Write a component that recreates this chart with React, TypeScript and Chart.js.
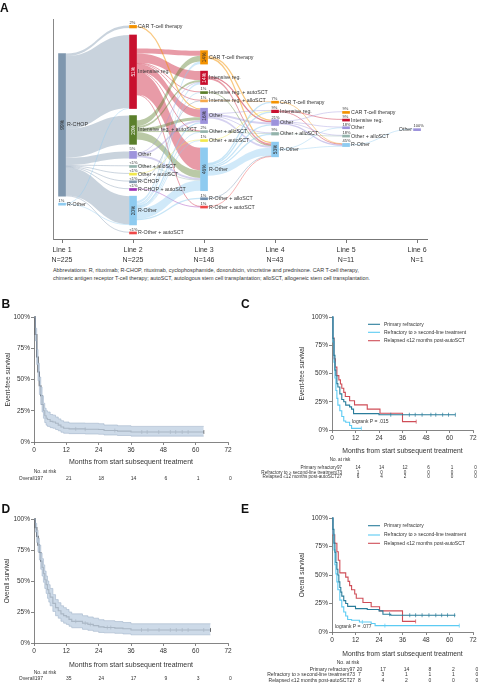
import React, { useEffect, useRef } from "react";
import { Chart, registerables } from "chart.js";

Chart.register(...registerables);
const FONT = "'Liberation Sans', Arial, Helvetica, sans-serif";
Chart.defaults.font.family = FONT;

// ================= Panel A: treatment lines =================
const LINES = ["Line 1", "Line 2", "Line 3", "Line 4", "Line 5", "Line 6"];
const LINE_N = [225, 225, 146, 43, 11, 1];

const L1_NODES = ["R-CHOP", "R-Other"];
const L1_COUNTS = [223, 2];
const L2_NODES = [
  "CAR T-cell therapy", "Intensive reg.", "Intensive reg. + autoSCT", "Other", "Other + alloSCT",
  "Other + autoSCT", "R-CHOP", "R-CHOP + autoSCT", "R-Other", "R-Other + autoSCT",
];
const L2_COUNTS = [4, 115, 45, 11, 1, 1, 1, 1, 45, 1];
const L3_NODES = [
  "CAR T-cell therapy", "Intensive reg.", "Intensive reg. + autoSCT", "Intensive reg. + alloSCT", "Other",
  "Other + alloSCT", "Other + autoSCT", "R-Other", "R-Other + alloSCT", "R-Other + autoSCT",
];
const L3_COUNTS = [21, 21, 2, 2, 24, 3, 2, 67, 2, 2];
const L4_NODES = ["CAR T-cell therapy", "Intensive reg.", "Other", "Other + alloSCT", "R-Other"];
const L4_COUNTS = [3, 4, 9, 4, 23];
const L5_NODES = ["CAR T-cell therapy", "Intensive reg.", "Other", "Other + alloSCT", "R-Other"];
const L5_COUNTS = [1, 1, 2, 2, 5];
const L6_NODES = ["Other"];
const L6_COUNTS = [1];

type Flow = [string, string, number];
const FLOWS_1_2: Flow[] = [
  ["R-CHOP", "CAR T-cell therapy", 4], ["R-CHOP", "Intensive reg.", 114], ["R-CHOP", "Intensive reg. + autoSCT", 45],
  ["R-CHOP", "Other", 11], ["R-CHOP", "Other + alloSCT", 1], ["R-CHOP", "Other + autoSCT", 1], ["R-CHOP", "R-CHOP", 1],
  ["R-CHOP", "R-CHOP + autoSCT", 1], ["R-CHOP", "R-Other", 44], ["R-CHOP", "R-Other + autoSCT", 1],
  ["R-Other", "Intensive reg.", 1], ["R-Other", "R-Other", 1],
];
const FLOWS_2_3: Flow[] = [
  ["Intensive reg.", "CAR T-cell therapy", 8], ["Intensive reg.", "Intensive reg.", 14], ["Intensive reg.", "Intensive reg. + autoSCT", 1],
  ["Intensive reg.", "Intensive reg. + alloSCT", 1], ["Intensive reg.", "Other", 12], ["Intensive reg.", "Other + alloSCT", 1],
  ["Intensive reg.", "R-Other", 35], ["Intensive reg.", "R-Other + autoSCT", 1],
  ["Intensive reg. + autoSCT", "CAR T-cell therapy", 9], ["Intensive reg. + autoSCT", "Intensive reg.", 3],
  ["Intensive reg. + autoSCT", "Other", 5], ["Intensive reg. + autoSCT", "Other + alloSCT", 1], ["Intensive reg. + autoSCT", "R-Other", 12],
  ["CAR T-cell therapy", "Other", 2],
  ["Other", "Intensive reg.", 1], ["Other", "Other", 3], ["Other", "R-Other", 3],
  ["Other + alloSCT", "R-Other", 1], ["Other + autoSCT", "Other + autoSCT", 1],
  ["R-CHOP", "Intensive reg. + alloSCT", 1], ["R-CHOP + autoSCT", "R-Other + autoSCT", 1],
  ["R-Other", "CAR T-cell therapy", 4], ["R-Other", "Intensive reg.", 3], ["R-Other", "Intensive reg. + autoSCT", 1],
  ["R-Other", "Other", 2], ["R-Other", "Other + alloSCT", 1], ["R-Other", "Other + autoSCT", 1],
  ["R-Other", "R-Other", 16], ["R-Other", "R-Other + alloSCT", 2],
];
const FLOWS_3_4: Flow[] = [
  ["CAR T-cell therapy", "Other", 2], ["CAR T-cell therapy", "R-Other", 2],
  ["Intensive reg.", "Other", 2], ["Intensive reg.", "R-Other", 3],
  ["Intensive reg. + autoSCT", "R-Other", 1], ["Intensive reg. + alloSCT", "CAR T-cell therapy", 1],
  ["Other", "Intensive reg.", 1], ["Other", "Other", 3], ["Other", "Other + alloSCT", 1], ["Other", "R-Other", 3],
  ["Other + alloSCT", "Other + alloSCT", 1], ["Other + autoSCT", "Intensive reg.", 1],
  ["R-Other", "CAR T-cell therapy", 2], ["R-Other", "Intensive reg.", 2], ["R-Other", "Other", 2],
  ["R-Other", "Other + alloSCT", 2], ["R-Other", "R-Other", 12],
  ["R-Other + alloSCT", "R-Other", 1], ["R-Other + autoSCT", "R-Other", 1],
];
const FLOWS_4_5: Flow[] = [
  ["CAR T-cell therapy", "R-Other", 1], ["Intensive reg.", "Intensive reg.", 1], ["Intensive reg.", "R-Other", 1],
  ["Other", "CAR T-cell therapy", 1], ["Other", "Other", 1], ["Other", "Other + alloSCT", 1], ["Other", "R-Other", 2],
  ["Other + alloSCT", "Other + alloSCT", 1], ["R-Other", "Other", 1], ["R-Other", "R-Other", 1],
];
const FLOWS_5_6: Flow[] = [["R-Other", "Other", 1]];

const ABBREV_1 =
  "Abbreviations: R, rituximab; R-CHOP, rituximab, cyclophosphamide, doxorubicin, vincristine and prednisone. CAR T-cell therapy,";
const ABBREV_2 =
  "chimeric antigen receptor T-cell therapy; autoSCT, autologous stem cell transplantation; alloSCT, allogeneic stem cell transplantation.";

// ================= Panels B-E: survival =================
const RISK_TIMES = [0, 12, 24, 36, 48, 60, 72];
const Y_TICKS = [0, 25, 50, 75, 100];
const X_TITLE = "Months from start subsequent treatment";
const GROUP_LABELS = [
  "Primary refractory",
  "Refractory to \u2265 second-line treatment",
  "Relapsed \u226412 months post-autoSCT",
];

const EFS_ALL_T = [0, 0.5, 1, 1.5, 2, 2.5, 3, 3.5, 4, 4.5, 5, 6, 7, 8, 9, 10, 11, 13, 19, 24, 26, 31, 36, 63];
const EFS_ALL_S = [100, 86, 68, 56, 45, 37, 30, 25, 21, 19, 18, 16.5, 16, 15, 13.5, 12, 11, 10.5, 10.2, 10, 9.2, 8.7, 8, 8];
const EFS_ALL_LO = [100, 81, 62, 49, 38, 30, 24, 19, 15.5, 13.5, 12.5, 11.5, 11, 10, 9, 7.8, 7, 6.7, 6.4, 6.2, 5.6, 5.2, 4.7, 4.7];
const EFS_ALL_HI = [100, 91, 74, 63, 52, 44, 37, 31, 27, 25, 24, 22, 21.5, 20, 18.5, 17, 16, 15.2, 15, 14.6, 13.6, 13, 12.5, 12.5];
const EFS_ALL_CENSOR = [15.5, 19, 30, 40, 42, 46.3, 50.6, 52.6, 55, 57.2, 63];
const RISK_B = [197, 21, 18, 14, 6, 1, 0];

const OS_ALL_T = [0, 0.5, 1, 1.5, 2, 2.5, 3, 3.5, 4, 4.5, 5, 5.5, 6, 7, 8, 9, 10, 11, 12, 13, 14, 18, 20, 22, 24, 26, 30, 33, 36, 65.5];
const OS_ALL_S = [100, 93, 86, 79, 73, 66, 61, 56, 51, 47, 43, 40, 37, 32, 28.5, 26, 23.5, 22, 21, 19, 17.5, 16, 15, 14, 13, 12.5, 12, 11.5, 10.5, 10.5];
const OS_ALL_LO = [100, 89.5, 81, 73.5, 67, 59.5, 54, 49, 44, 40, 36, 33, 30, 25.5, 22, 20, 17.5, 16, 15, 13.5, 12.3, 11, 10.2, 9.4, 8.5, 8.2, 7.8, 7.3, 6.6, 6.6];
const OS_ALL_HI = [100, 96.5, 91, 84.5, 79, 72.5, 68, 63, 58, 54, 50, 47, 44, 39, 35, 32.5, 30, 28.5, 27, 25, 23.5, 22, 21, 20, 18.8, 18, 17.3, 16.5, 15.5, 15.5];
const OS_ALL_CENSOR = [15.5, 19, 20.9, 27.2, 28.5, 39.9, 42.3, 46.4, 50.6, 52.8, 55, 57.2, 63, 65.5];
const RISK_D = [197, 35, 24, 17, 9, 3, 0];

const EFS_PR_T = [0, 0.5, 1, 1.5, 2, 2.5, 3, 4, 5, 6, 7, 9, 10, 11, 24, 63];
const EFS_PR_S = [100, 81, 66, 53, 48, 41, 38, 32, 27, 25, 22, 20.5, 18.5, 14.5, 13.5, 13.5];
const EFS_PR_CENSOR = [30, 39.5, 42.5, 46, 50.5, 53, 56.5, 59.5, 63];
const EFS_RF_T = [0, 0.5, 1, 1.5, 2, 2.5, 3, 4, 5, 6, 7, 9, 10, 15];
const EFS_RF_S = [100, 78, 60, 46, 35, 28, 22, 17, 12, 8, 6.8, 4, 1.4, 1.4];
const EFS_RF_CENSOR = [15];
const EFS_RL_T = [0, 0.5, 1, 1.7, 2.5, 3.5, 4.3, 5, 6, 6.8, 9, 11.5, 18, 24.5, 36, 43];
const EFS_RL_S = [100, 81.5, 63, 55.6, 48.1, 44.4, 40.7, 37, 33.3, 29.6, 25.9, 22.2, 18.5, 14.8, 7.4, 7.4];
const EFS_RL_CENSOR = [43];
const RISK_C_PR = [97, 14, 14, 12, 6, 1, 0];
const RISK_C_RF = [73, 1, 0, 0, 0, 0, 0];
const RISK_C_RL = [27, 6, 4, 2, 0, 0, 0];

const OS_PR_T = [0, 0.5, 1, 1.5, 2, 2.5, 3, 3.5, 4, 4.5, 5, 6, 7, 8, 12, 18, 24, 26, 30, 63];
const OS_PR_S = [100, 90, 78, 70, 61, 55, 50, 44, 39, 35, 31.5, 27.5, 25, 22.5, 20.5, 19.7, 18.5, 15.6, 14.7, 14.7];
const OS_PR_CENSOR = [29.4, 39.7, 42.7, 46, 49.5, 53, 56, 59, 62.6];
const OS_RF_T = [0, 0.5, 1, 1.5, 2, 2.5, 3, 4, 5, 6, 7, 8, 10, 14, 20, 22, 65];
const OS_RF_S = [100, 86, 72, 59, 51, 44, 37, 28, 22, 17.6, 14, 11, 10.3, 8.8, 7.4, 5.6, 5.6];
const OS_RF_CENSOR = [15.5, 27, 65];
const OS_RL_T = [0, 0.5, 1.4, 2.5, 3.2, 4, 7, 8.2, 9, 10, 11.6, 12.4, 15.8, 20, 24.3, 36, 42.7];
const OS_RL_S = [100, 85.2, 77.8, 70.4, 63, 51.9, 48.1, 44.4, 40.7, 37, 33.3, 29.6, 25.9, 22.2, 18.5, 9.3, 9.3];
const OS_RL_CENSOR = [42.7];
const RISK_E_PR = [97, 20, 17, 14, 8, 2, 0];
const RISK_E_RF = [73, 7, 3, 1, 1, 1, 0];
const RISK_E_RL = [27, 8, 4, 2, 0, 0, 0];

// ================= styles =================
const NODE_COLORS: Record<string, string> = {
  "R-CHOP": "#7f97ae",
  "R-Other": "#8ecbf0",
  "CAR T-cell therapy": "#f39200",
  "Intensive reg.": "#c8102e",
  "Intensive reg. + autoSCT": "#5b7f2b",
  "Intensive reg. + alloSCT": "#f6a84a",
  Other: "#9d93dc",
  "Other + alloSCT": "#93b3ab",
  "Other + autoSCT": "#f2e84a",
  "R-CHOP + autoSCT": "#9b30b5",
  "R-Other + autoSCT": "#ee4848",
  "R-Other + alloSCT": "#6f8fae",
};
const COL_PR = "#2a7d9b";
const COL_RF = "#5ccbf3";
const COL_RL = "#cf4d57";

function rgba(hex: string, a: number) {
  const v = parseInt(hex.slice(1), 16);
  return `rgba(${(v >> 16) & 255},${(v >> 8) & 255},${v & 255},${a})`;
}
function isDark(hex: string) {
  const v = parseInt(hex.slice(1), 16);
  const r = (v >> 16) & 255, g = (v >> 8) & 255, b = v & 255;
  return 0.299 * r + 0.587 * g + 0.114 * b < 120;
}

// ================= Sankey =================
type SNode = { col: number; name: string; count: number; y0: number; y1: number };
type SLink = { src: SNode; tgt: SNode; v: number; sy: number; ty: number };
const GAP = 11;
const CENTER = 172;
const YMAX = 344;
const BAR_W = 7;

function buildNodes(): SNode[] {
  const cols: [string[], number[]][] = [
    [L1_NODES, L1_COUNTS], [L2_NODES, L2_COUNTS], [L3_NODES, L3_COUNTS],
    [L4_NODES, L4_COUNTS], [L5_NODES, L5_COUNTS], [L6_NODES, L6_COUNTS],
  ];
  const nodes: SNode[] = [];
  cols.forEach(([names, counts], ci) => {
    const total = counts.reduce((a, b) => a + b, 0) + GAP * (counts.length - 1);
    let y = CENTER - total / 2;
    names.forEach((name, k) => {
      nodes.push({ col: ci, name, count: counts[k], y0: y, y1: y + counts[k] });
      y += counts[k] + GAP;
    });
  });
  return nodes;
}

function buildLinks(nodes: SNode[]): SLink[] {
  const all = [FLOWS_1_2, FLOWS_2_3, FLOWS_3_4, FLOWS_4_5, FLOWS_5_6];
  const links: SLink[] = [];
  all.forEach((fl, ci) => {
    fl.forEach(([from, to, v]) => {
      const src = nodes.find((n) => n.col === ci && n.name === from)!;
      const tgt = nodes.find((n) => n.col === ci + 1 && n.name === to)!;
      links.push({ src, tgt, v, sy: 0, ty: 0 });
    });
  });
  nodes.forEach((n) => {
    const outs = links.filter((l) => l.src === n).sort((a, b) => a.tgt.y0 - b.tgt.y0);
    const outT = outs.reduce((a, l) => a + l.v, 0);
    let y = n.y0 + Math.max(0, (n.count - outT) / 2);
    outs.forEach((l) => { l.sy = y; y += l.v; });
    const ins = links.filter((l) => l.tgt === n).sort((a, b) => a.src.y0 - b.src.y0);
    const inT = ins.reduce((a, l) => a + l.v, 0);
    y = n.y0 + Math.max(0, (n.count - inT) / 2);
    ins.forEach((l) => { l.ty = y; y += l.v; });
  });
  return links;
}

function SankeyChart() {
  const ref = useRef<HTMLCanvasElement>(null);
  useEffect(() => {
    const canvas = ref.current!;
    const nodes = buildNodes();
    const links = buildLinks(nodes);
    const sankeyPlugin = {
      id: "sankeyFlows",
      beforeDatasetsDraw(chart: any) {
        const { ctx } = chart;
        const xs = chart.scales.x, ys = chart.scales.y;
        ctx.save();
        links.forEach((l) => {
          const x0 = xs.getPixelForValue(l.src.col + 1) + BAR_W / 2;
          const x1 = xs.getPixelForValue(l.tgt.col + 1) - BAR_W / 2;
          const a0 = ys.getPixelForValue(l.sy), a1 = ys.getPixelForValue(l.sy + l.v);
          const b0 = ys.getPixelForValue(l.ty), b1 = ys.getPixelForValue(l.ty + l.v);
          const xm = (x0 + x1) / 2;
          const col = NODE_COLORS[l.src.name];
          const w = Math.abs(a1 - a0);
          if (w < 1.6) {
            const am = (a0 + a1) / 2, bm = (b0 + b1) / 2;
            ctx.beginPath();
            ctx.moveTo(x0, am);
            ctx.bezierCurveTo(xm, am, xm, bm, x1, bm);
            ctx.strokeStyle = rgba(col, 0.5);
            ctx.lineWidth = Math.max(0.8, w);
            ctx.stroke();
          } else {
            ctx.beginPath();
            ctx.moveTo(x0, a0);
            ctx.bezierCurveTo(xm, a0, xm, b0, x1, b0);
            ctx.lineTo(x1, b1);
            ctx.bezierCurveTo(xm, b1, xm, a1, x0, a1);
            ctx.closePath();
            ctx.fillStyle = rgba(col, 0.42);
            ctx.fill();
          }
        });
        ctx.restore();
      },
      afterDatasetsDraw(chart: any) {
        const { ctx } = chart;
        const meta = chart.getDatasetMeta(0);
        ctx.save();
        meta.data.forEach((el: any, i: number) => {
          const n = nodes[i];
          const top = Math.min(el.y, el.base), bot = Math.max(el.y, el.base);
          const h = bot - top, cy = (top + bot) / 2;
          const left = el.x - BAR_W / 2, right = el.x + BAR_W / 2;
          const pct = (100 * n.count) / LINE_N[n.col];
          const pctTxt = pct < 0.5 ? "<1%" : Math.round(pct) + "%";
          ctx.fillStyle = "#333";
          ctx.font = `5.3px ${FONT}`;
          ctx.textBaseline = "middle";
          if (n.col === LINES.length - 1) {
            ctx.textAlign = "right";
            ctx.fillText(n.name, left - 1.5, cy);
          } else {
            ctx.textAlign = "left";
            ctx.fillText(n.name, right + 1.5, cy);
          }
          if (h >= 8) {
            ctx.save();
            ctx.translate(el.x, cy);
            ctx.rotate(-Math.PI / 2);
            ctx.font = `4.8px ${FONT}`;
            ctx.textAlign = "center";
            ctx.textBaseline = "middle";
            ctx.fillStyle = isDark(NODE_COLORS[n.name]) ? "#ffffff" : "#333";
            ctx.fillText(pctTxt, 0, 0.3);
            ctx.restore();
          } else {
            ctx.font = `4px ${FONT}`;
            ctx.textAlign = "left";
            ctx.textBaseline = "bottom";
            ctx.fillText(pctTxt, left, top - 0.3);
          }
        });
        ctx.restore();
      },
    };
    const chart = new Chart(canvas, {
      type: "bar",
      data: {
        datasets: [
          {
            data: nodes.map((n) => ({ x: n.col + 1, y: [n.y0, n.y1] })) as any,
            backgroundColor: nodes.map((n) => NODE_COLORS[n.name]),
            barThickness: BAR_W,
            minBarLength: 2,
            borderWidth: 0,
          },
        ],
      },
      options: {
        animation: false,
        responsive: false,
        events: [],
        layout: { padding: { left: 0, top: 19, right: 51, bottom: 0 } },
        plugins: { legend: { display: false }, tooltip: { enabled: false } },
        scales: {
          x: {
            type: "linear",
            min: 0.873,
            max: 6.14,
            offset: false,
            afterBuildTicks: (s: any) => { s.ticks = LINES.map((_, i) => ({ value: i + 1 })); },
            afterFit: (s: any) => { s.height = 26; },
            grid: { display: true, drawOnChartArea: false, drawTicks: true, tickLength: 4, color: "#777", offset: false },
            border: { display: true, color: "#777" },
            ticks: {
              callback: (v: any) => [LINES[Math.round(v) - 1], "N=" + LINE_N[Math.round(v) - 1]],
              font: { size: 7, lineHeight: 1.4 },
              color: "#333",
              padding: 2,
              maxRotation: 0,
              autoSkip: false,
            },
          },
          y: {
            type: "linear",
            min: 0,
            max: YMAX,
            reverse: true,
            afterFit: (s: any) => { s.width = 53; },
            ticks: { display: false },
            grid: { display: false },
            border: { display: true, color: "#888" },
          },
        },
      } as any,
      plugins: [sankeyPlugin],
    });
    return () => chart.destroy();
  }, []);
  return (
    <canvas
      ref={ref}
      width={478}
      height={265}
      style={{ position: "absolute", left: 0, top: 0, width: 478, height: 265, display: "block" }}
    />
  );
}

// ================= KM chart =================
type Series = {
  t: number[]; s: number[]; color: string; censor: number[];
  lo?: number[]; hi?: number[]; riskLabel: string; risk: number[]; legend?: string;
};
type KmSpec = {
  left: number; top: number; w: number; h: number;
  pad: { left: number; top: number; right: number; bottom: number };
  yTitle: string; yTitleX: number; xTitleY: number; xTitleSize: number;
  noRiskX: number; noRiskY: number; riskRight: number; riskYs: number[]; riskSize: number; riskOffset: number;
  series: Series[]; lineWidth: number;
  legend?: { x0: number; x1: number; tx: number; ys: number[] };
  logrank?: { text: string; x: number; y: number };
};

function stepAt(t: number[], s: number[], c: number) {
  let v = s[0];
  for (let i = 0; i < t.length; i++) if (t[i] <= c) v = s[i];
  return v;
}

function KMChart({ spec }: { spec: KmSpec }) {
  const ref = useRef<HTMLCanvasElement>(null);
  useEffect(() => {
    const canvas = ref.current!;
    const datasets: any[] = [];
    spec.series.forEach((se) => {
      if (se.lo && se.hi) {
        datasets.push({
          data: se.t.map((x, i) => ({ x, y: se.lo![i] })),
          borderColor: "#a3b6cb", borderWidth: 0.6, stepped: true, pointRadius: 0, fill: false, clip: false,
        });
        datasets.push({
          data: se.t.map((x, i) => ({ x, y: se.hi![i] })),
          borderColor: "#a3b6cb", borderWidth: 0.6, stepped: true, pointRadius: 0,
          fill: "-1", backgroundColor: "rgba(196,212,228,0.85)", clip: false,
        });
      }
    });
    spec.series.forEach((se) => {
      datasets.push({
        data: se.t.map((x, i) => ({ x, y: se.s[i] })),
        borderColor: se.color, borderWidth: spec.lineWidth, stepped: true, pointRadius: 0, fill: false, clip: false,
      });
      datasets.push({
        data: se.censor.map((c) => ({ x: c, y: stepAt(se.t, se.s, c) })),
        showLine: false, pointStyle: "line", pointRotation: 90, pointRadius: 2,
        pointBorderColor: se.color, pointBorderWidth: 0.7, borderColor: se.color, clip: false,
      });
    });
    const textPlugin = {
      id: "kmText",
      afterDraw(chart: any) {
        const { ctx, chartArea: ca } = chart;
        const xs = chart.scales.x;
        ctx.save();
        ctx.fillStyle = "#333";
        ctx.save();
        ctx.translate(spec.yTitleX, (ca.top + ca.bottom) / 2);
        ctx.rotate(-Math.PI / 2);
        ctx.font = `6.5px ${FONT}`;
        ctx.textAlign = "center";
        ctx.textBaseline = "middle";
        ctx.fillText(spec.yTitle, 0, 0);
        ctx.restore();
        ctx.textBaseline = "middle";
        ctx.textAlign = "center";
        ctx.font = `${spec.xTitleSize}px ${FONT}`;
        ctx.fillText(X_TITLE, (ca.left + ca.right) / 2, spec.xTitleY);
        ctx.font = `${spec.riskSize}px ${FONT}`;
        ctx.fillText("No. at risk", spec.noRiskX, spec.noRiskY);
        spec.series.forEach((se, k) => {
          const y = spec.riskYs[k];
          ctx.textAlign = "right";
          ctx.fillText(se.riskLabel + se.risk[0], spec.riskRight, y);
          ctx.textAlign = "center";
          for (let j = 1; j < RISK_TIMES.length; j++) {
            ctx.fillText(String(se.risk[j]), xs.getPixelForValue(RISK_TIMES[j]) + spec.riskOffset, y);
          }
        });
        if (spec.legend) {
          const lg = spec.legend;
          spec.series.forEach((se, k) => {
            ctx.beginPath();
            ctx.moveTo(lg.x0, lg.ys[k]);
            ctx.lineTo(lg.x1, lg.ys[k]);
            ctx.strokeStyle = se.color;
            ctx.lineWidth = 1.1;
            ctx.stroke();
            ctx.font = `5px ${FONT}`;
            ctx.textAlign = "left";
            ctx.fillStyle = "#333";
            ctx.fillText(se.legend || "", lg.tx, lg.ys[k]);
          });
        }
        if (spec.logrank) {
          ctx.font = `5px ${FONT}`;
          ctx.textAlign = "left";
          ctx.fillText(spec.logrank.text, spec.logrank.x, spec.logrank.y);
        }
        ctx.restore();
      },
    };
    const axisCommon = {
      grid: { display: true, drawOnChartArea: false, drawTicks: true, tickLength: 3, color: "#666", lineWidth: 0.8 },
      border: { display: true, color: "#666", width: 0.8 },
    };
    const chart = new Chart(canvas, {
      type: "line",
      data: { datasets },
      options: {
        animation: false,
        responsive: false,
        events: [],
        layout: { padding: { left: 0, top: spec.pad.top, right: spec.pad.right, bottom: 0 } },
        plugins: { legend: { display: false }, tooltip: { enabled: false } },
        scales: {
          x: {
            type: "linear", min: 0, max: 72,
            afterBuildTicks: (s: any) => { s.ticks = RISK_TIMES.map((v) => ({ value: v })); },
            afterFit: (s: any) => { s.height = spec.pad.bottom; },
            ...axisCommon,
            ticks: { font: { size: 6.5 }, color: "#333", padding: 1, maxRotation: 0, autoSkip: false },
          },
          y: {
            type: "linear", min: 0, max: 100,
            afterBuildTicks: (s: any) => { s.ticks = Y_TICKS.map((v) => ({ value: v })); },
            afterFit: (s: any) => { s.width = spec.pad.left; },
            ...axisCommon,
            ticks: { font: { size: 6.5 }, color: "#333", padding: 1, autoSkip: false, callback: (v: any) => v + "%" },
          },
        },
      } as any,
      plugins: [textPlugin],
    });
    return () => chart.destroy();
  }, [spec]);
  return (
    <canvas
      ref={ref}
      width={spec.w}
      height={spec.h}
      style={{ position: "absolute", left: spec.left, top: spec.top, width: spec.w, height: spec.h, display: "block" }}
    />
  );
}

const SPEC_B: KmSpec = {
  left: 0, top: 300, w: 239, h: 190,
  pad: { left: 34, top: 17, right: 11, bottom: 48 },
  yTitle: "Event-free survival", yTitleX: 8, xTitleY: 162, xTitleSize: 7,
  noRiskX: 45, noRiskY: 172, riskRight: 43, riskYs: [178.7], riskSize: 5, riskOffset: 2.5, lineWidth: 1.2,
  series: [{ t: EFS_ALL_T, s: EFS_ALL_S, lo: EFS_ALL_LO, hi: EFS_ALL_HI, color: "#1a1a1a", censor: EFS_ALL_CENSOR, riskLabel: "Overall", risk: RISK_B }],
};
const SPEC_D: KmSpec = {
  left: 0, top: 500, w: 239, h: 185,
  pad: { left: 34, top: 19, right: 11, bottom: 42 },
  yTitle: "Overall survival", yTitleX: 7, xTitleY: 165, xTitleSize: 7,
  noRiskX: 45, noRiskY: 173, riskRight: 43, riskYs: [178.3], riskSize: 5, riskOffset: 2.5, lineWidth: 1.2,
  series: [{ t: OS_ALL_T, s: OS_ALL_S, lo: OS_ALL_LO, hi: OS_ALL_HI, color: "#1a1a1a", censor: OS_ALL_CENSOR, riskLabel: "Overall", risk: RISK_D }],
};
const SPEC_C: KmSpec = {
  left: 239, top: 300, w: 239, h: 190,
  pad: { left: 93, top: 17, right: 5, bottom: 60 },
  yTitle: "Event-free survival", yTitleX: 63, xTitleY: 151, xTitleSize: 6.8,
  noRiskX: 101, noRiskY: 160, riskRight: 103, riskYs: [167.7, 172.3, 176.7], riskSize: 4.6, riskOffset: 2.5, lineWidth: 1.1,
  series: [
    { t: EFS_PR_T, s: EFS_PR_S, color: COL_PR, censor: EFS_PR_CENSOR, riskLabel: GROUP_LABELS[0], risk: RISK_C_PR, legend: GROUP_LABELS[0] },
    { t: EFS_RF_T, s: EFS_RF_S, color: COL_RF, censor: EFS_RF_CENSOR, riskLabel: GROUP_LABELS[1], risk: RISK_C_RF, legend: GROUP_LABELS[1] },
    { t: EFS_RL_T, s: EFS_RL_S, color: COL_RL, censor: EFS_RL_CENSOR, riskLabel: GROUP_LABELS[2], risk: RISK_C_RL, legend: GROUP_LABELS[2] },
  ],
  legend: { x0: 129, x1: 141, tx: 145, ys: [24.3, 32.3, 40.7] },
  logrank: { text: "logrank P = .015", x: 113, y: 122 },
};
const SPEC_E: KmSpec = {
  left: 239, top: 500, w: 239, h: 185,
  pad: { left: 93, top: 18, right: 5, bottom: 53 },
  yTitle: "Overall survival", yTitleX: 63, xTitleY: 154, xTitleSize: 6.8,
  noRiskX: 109, noRiskY: 163, riskRight: 116, riskYs: [169.3, 175, 180.7], riskSize: 5, riskOffset: 4, lineWidth: 1.1,
  series: [
    { t: OS_PR_T, s: OS_PR_S, color: COL_PR, censor: OS_PR_CENSOR, riskLabel: GROUP_LABELS[0], risk: RISK_E_PR, legend: GROUP_LABELS[0] },
    { t: OS_RF_T, s: OS_RF_S, color: COL_RF, censor: OS_RF_CENSOR, riskLabel: GROUP_LABELS[1], risk: RISK_E_RF, legend: GROUP_LABELS[1] },
    { t: OS_RL_T, s: OS_RL_S, color: COL_RL, censor: OS_RL_CENSOR, riskLabel: GROUP_LABELS[2], risk: RISK_E_RL, legend: GROUP_LABELS[2] },
  ],
  legend: { x0: 129, x1: 141, tx: 145, ys: [25.7, 35, 43.3] },
  logrank: { text: "logrank P = .077", x: 96, y: 127 },
};

const letterStyle = (left: number, top: number): React.CSSProperties => ({
  position: "absolute", left, top, fontSize: 12, lineHeight: "12px", fontWeight: "bold", color: "#111", fontFamily: FONT,
});

export default function App() {
  return (
    <div style={{ position: "absolute", left: 0, top: 0, width: 478, height: 685, background: "#fff", overflow: "hidden", fontFamily: FONT }}>
      <SankeyChart />
      <div
        style={{
          position: "absolute", left: 53, top: 266, fontSize: 5.4, lineHeight: "8px", color: "#333", whiteSpace: "nowrap", fontFamily: FONT,
        }}
      >
        {ABBREV_1}
        <br />
        {ABBREV_2}
      </div>
      <KMChart spec={SPEC_B} />
      <KMChart spec={SPEC_C} />
      <KMChart spec={SPEC_D} />
      <KMChart spec={SPEC_E} />
      <div style={letterStyle(0, 2.4)}>A</div>
      <div style={letterStyle(1.5, 298.4)}>B</div>
      <div style={letterStyle(241, 298.4)}>C</div>
      <div style={letterStyle(1.5, 503.4)}>D</div>
      <div style={letterStyle(241, 503.4)}>E</div>
    </div>
  );
}
